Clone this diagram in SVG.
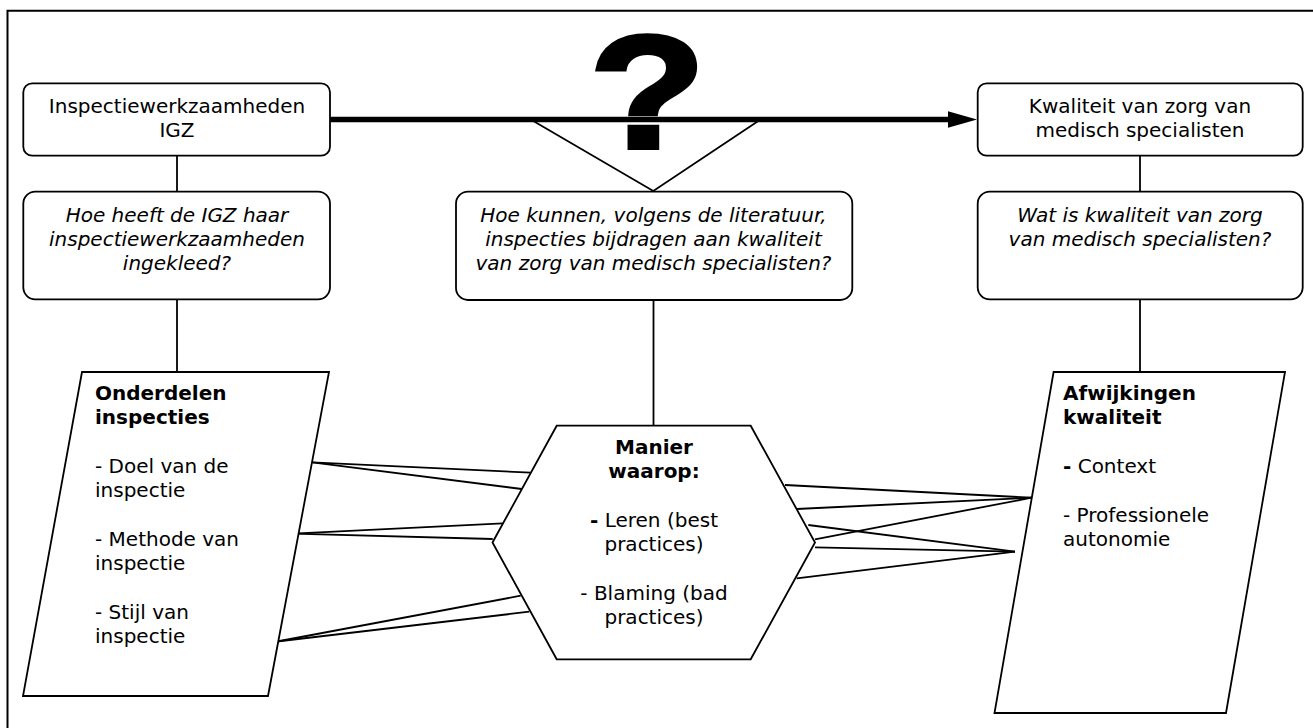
<svg xmlns="http://www.w3.org/2000/svg" width="1313" height="728" viewBox="0 0 1313 728">
<style>
.box{fill:#fff;stroke:#000;stroke-width:1.8}
.shape{fill:#fff;stroke:#000;stroke-width:1.8;stroke-linejoin:miter}
.ln{stroke:#000;stroke-width:1.8;fill:none}
.thick{stroke:#000;stroke-width:5.3;fill:none}
.t{font-family:"DejaVu Sans","Verdana",sans-serif;font-size:20px;fill:#000}
.c{text-anchor:middle}
.i{font-style:italic}
.b{font-weight:bold}
</style>
<defs>
<marker id="arrow" markerUnits="userSpaceOnUse" markerWidth="30" markerHeight="18" refX="2" refY="8.3" orient="auto">
<path d="M0,0 L29,8.3 L0,16.6 z" fill="#000"/>
</marker>
</defs>
<rect width="1313" height="728" fill="#fff"/>
<path id="frame" d="M7.5,728 L7.5,10.7 L1313,10.7" fill="none" stroke="#000" stroke-width="2"/>

<g id="connectors">
<line class="thick" x1="330" y1="119.5" x2="950" y2="119.5" marker-end="url(#arrow)"/>
<polyline class="ln" points="533.3,121 653.3,191 758.3,121"/>
<line class="ln" x1="177" y1="155.7" x2="177" y2="191.7"/>
<line class="ln" x1="177" y1="299.3" x2="177" y2="372"/>
<line class="ln" x1="653.5" y1="300" x2="653.5" y2="425.7"/>
<line class="ln" x1="1140" y1="155.7" x2="1140" y2="191.7"/>
<line class="ln" x1="1140" y1="299.3" x2="1140" y2="372"/>
<line class="ln" x1="312.3" y1="462.3" x2="530.7" y2="472.7"/>
<line class="ln" x1="312.3" y1="462.3" x2="521.7" y2="489"/>
<line class="ln" x1="293.3" y1="533.7" x2="502.7" y2="523.3"/>
<line class="ln" x1="293.3" y1="533.7" x2="492.7" y2="539"/>
<line class="ln" x1="277" y1="641.5" x2="520.7" y2="595.7"/>
<line class="ln" x1="277" y1="641.5" x2="529.3" y2="611.7"/>
<line class="ln" x1="785" y1="485" x2="1031.7" y2="497.7"/>
<line class="ln" x1="796.7" y1="509" x2="1031.7" y2="497.7"/>
<line class="ln" x1="808.3" y1="525" x2="1015" y2="551.7"/>
<line class="ln" x1="815" y1="539.3" x2="1031.7" y2="497.7"/>
<line class="ln" x1="815" y1="547.3" x2="1015" y2="551.7"/>
<line class="ln" x1="796.7" y1="578.3" x2="1015" y2="551.7"/>
</g>

<g id="question-mark">
<text transform="translate(647.5,148.3) scale(1.18,1)" x="0" y="0" text-anchor="middle" font-family="Liberation Sans, Arial, sans-serif" font-weight="bold" font-size="162" fill="#000" stroke="#000" stroke-width="4">?</text>
</g>

<g id="node-igz">
<rect class="box" x="23.3" y="83.3" width="306.7" height="72.4" rx="9"/>
<text class="t c" x="177" y="113.3">Inspectiewerkzaamheden</text>
<text class="t c" x="177" y="137.3">IGZ</text>
</g>

<g id="node-q-igz">
<rect class="box" x="23.3" y="191.7" width="306.7" height="107.6" rx="12"/>
<text class="t c i" x="177" y="222">Hoe heeft de IGZ haar</text>
<text class="t c i" x="177" y="246">inspectiewerkzaamheden</text>
<text class="t c i" x="177" y="270">ingekleed?</text>
</g>

<g id="node-q-lit">
<rect class="box" x="456" y="191.7" width="396.3" height="108.3" rx="12"/>
<text class="t c i" x="653.5" y="222">Hoe kunnen, volgens de literatuur,</text>
<text class="t c i" x="653.5" y="246">inspecties bijdragen aan kwaliteit</text>
<text class="t c i" x="653.5" y="270">van zorg van medisch specialisten?</text>
</g>

<g id="node-kwaliteit">
<rect class="box" x="977.7" y="83.3" width="325" height="72.4" rx="9"/>
<text class="t c" x="1140" y="113.3">Kwaliteit van zorg van</text>
<text class="t c" x="1140" y="137.3">medisch specialisten</text>
</g>

<g id="node-q-kwaliteit">
<rect class="box" x="977.7" y="191.7" width="325" height="107.6" rx="12"/>
<text class="t c i" x="1140" y="222">Wat is kwaliteit van zorg</text>
<text class="t c i" x="1140" y="246">van medisch specialisten?</text>
</g>

<g id="node-onderdelen">
<polygon class="shape" points="82,372 329,372 268,696 23,696"/>
<text class="t b" x="95" y="399.5">Onderdelen</text>
<text class="t b" x="95" y="423.5">inspecties</text>
<text class="t" x="95" y="472.5">- Doel van de</text>
<text class="t" x="95" y="496.5">inspectie</text>
<text class="t" x="95" y="545.5">- Methode van</text>
<text class="t" x="95" y="569.5">inspectie</text>
<text class="t" x="95" y="618.5">- Stijl van</text>
<text class="t" x="95" y="642.5">inspectie</text>
</g>

<g id="node-manier">
<polygon class="shape" points="492.5,542.5 556.7,425.7 750.7,425.7 815,542.5 750.7,659.3 556.7,659.3"/>
<text class="t c b" x="654" y="454">Manier</text>
<text class="t c b" x="654" y="478">waarop:</text>
<text class="t c" x="654" y="527"><tspan font-weight="bold">-</tspan> Leren (best</text>
<text class="t c" x="654" y="551">practices)</text>
<text class="t c" x="654" y="600">- Blaming (bad</text>
<text class="t c" x="654" y="624">practices)</text>
</g>

<g id="node-afwijkingen">
<polygon class="shape" points="1053.6,372 1285,372 1226,713 994.5,713"/>
<text class="t b" x="1063" y="399.5">Afwijkingen</text>
<text class="t b" x="1063" y="423.5">kwaliteit</text>
<text class="t" x="1063" y="472.5"><tspan font-weight="bold">-</tspan> Context</text>
<text class="t" x="1063" y="521.5">- Professionele</text>
<text class="t" x="1063" y="545.5">autonomie</text>
</g>
</svg>
